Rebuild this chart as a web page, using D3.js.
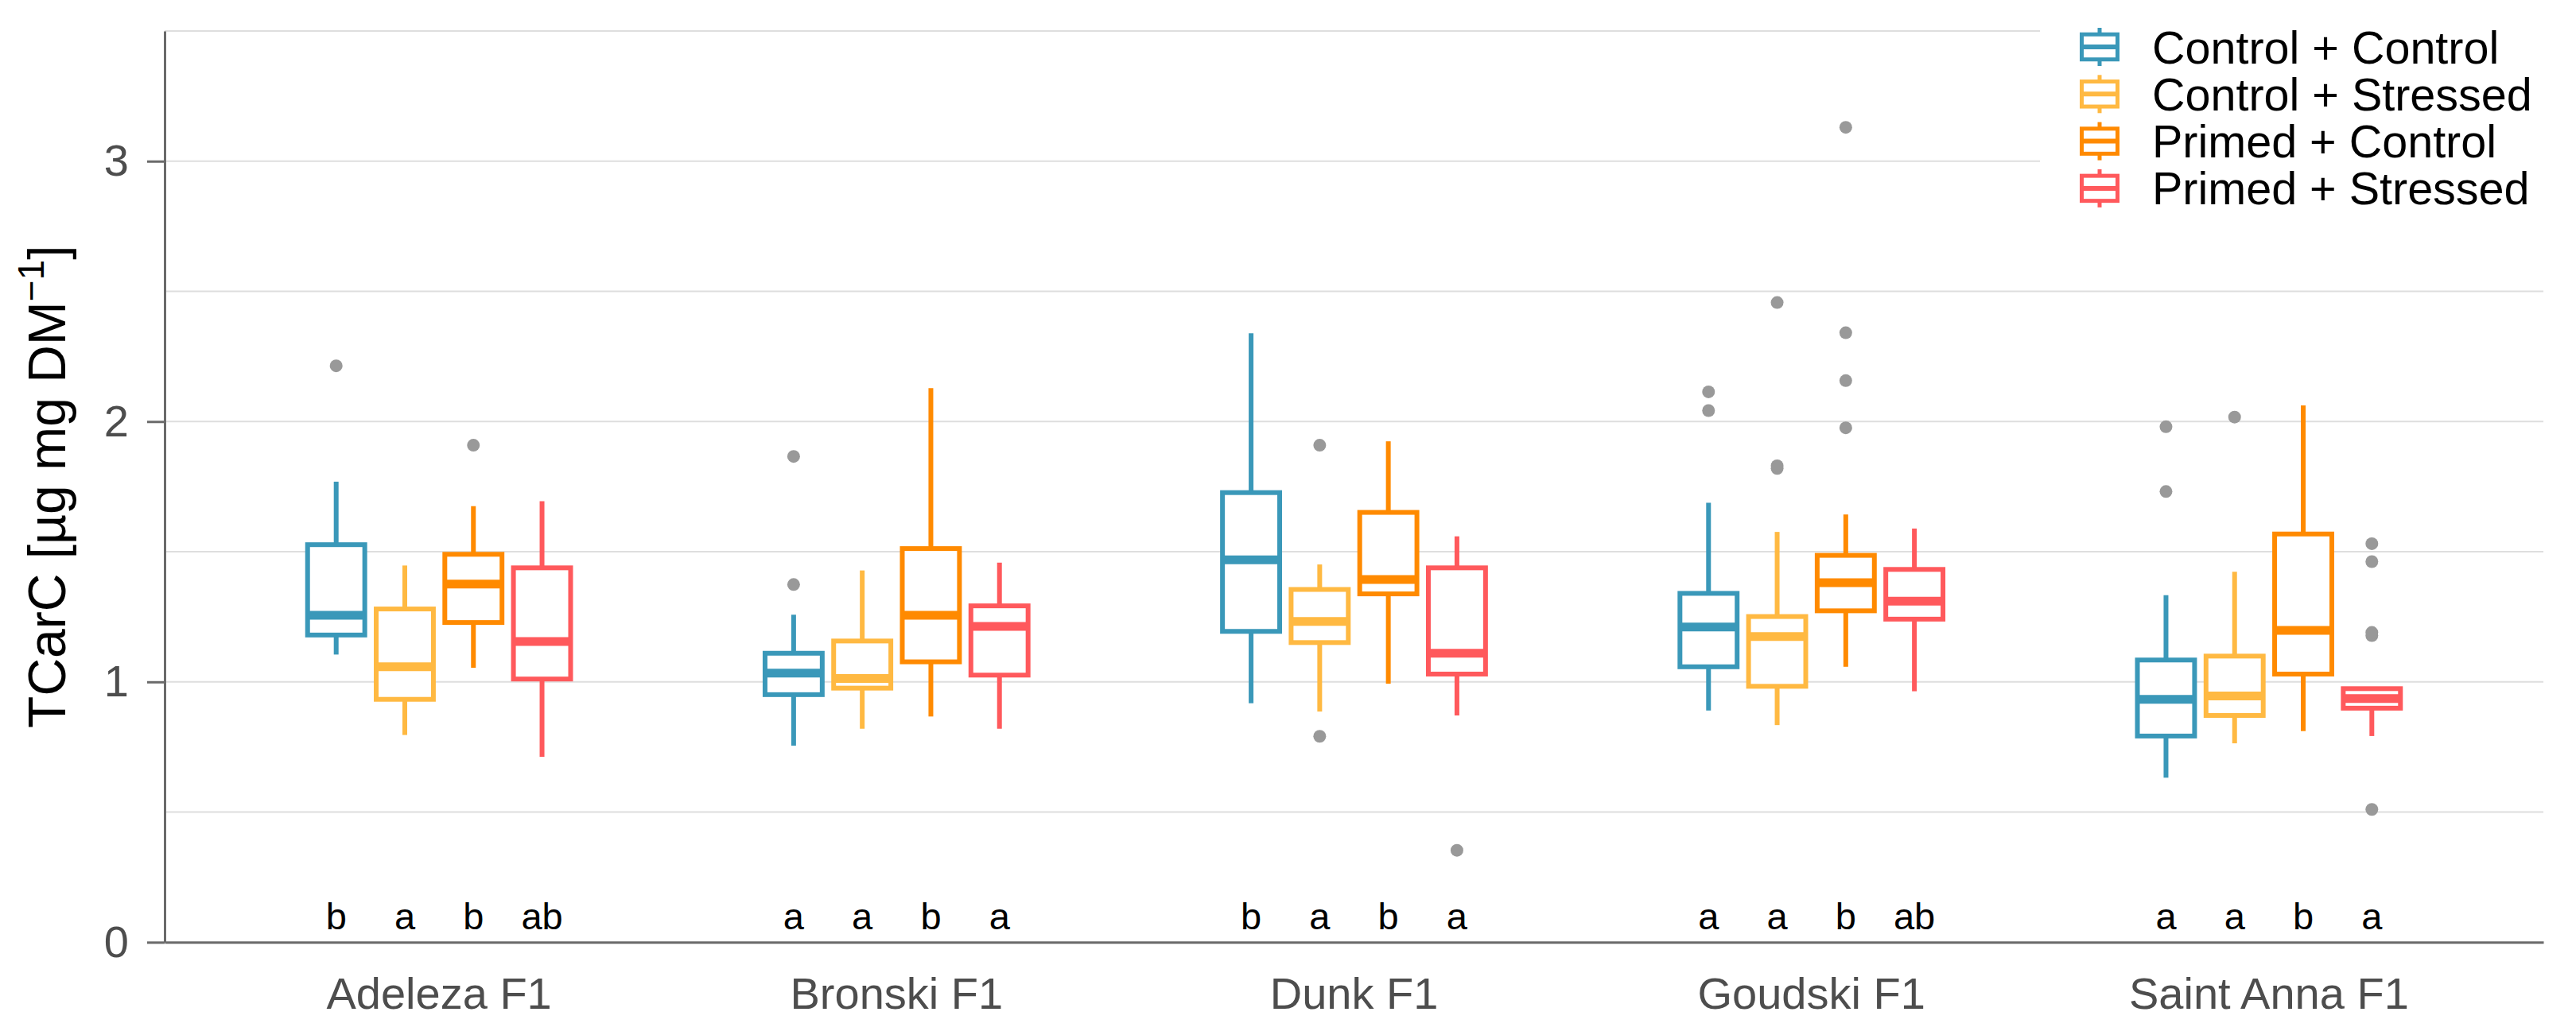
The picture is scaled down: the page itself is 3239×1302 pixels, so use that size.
<!DOCTYPE html>
<html>
<head>
<meta charset="utf-8">
<script src="https://cdn.jsdelivr.net/npm/d3@7"></script>
<style>
  html, body { margin: 0; padding: 0; background: #ffffff; }
  svg { display: block; font-family: "Liberation Sans", Arial, Helvetica, sans-serif; }
</style>
</head>
<body>
<svg id="chart" width="3239" height="1302"></svg>
<script>
// ---------------- data ----------------
const cultivars = ["Adeleza F1", "Bronski F1", "Dunk F1", "Goudski F1", "Saint Anna F1"];
const treatments = ["Control + Control", "Control + Stressed", "Primed + Control", "Primed + Stressed"];
const colors = ["#3a98b9", "#ffb942", "#ff8a00", "#ff595c"];

// per cultivar: [CC, CS, PC, PS]
const whiskerLow  = [[1.105, 0.796, 1.054, 0.712],
                     [0.755, 0.820, 0.867, 0.820],
                     [0.918, 0.886, 0.993, 0.871],
                     [0.890, 0.834, 1.058, 0.964],
                     [0.632, 0.764, 0.811, 0.792]];
const q1          = [[1.180, 0.933, 1.228, 1.011],
                     [0.951, 0.976, 1.077, 1.026],
                     [1.194, 1.151, 1.338, 1.030],
                     [1.058, 0.983, 1.273, 1.241],
                     [0.792, 0.871, 1.030, 0.899]];
const medianVals  = [[1.256, 1.058, 1.376, 1.155],
                     [1.034, 1.013, 1.256, 1.213],
                     [1.469, 1.232, 1.393, 1.110],
                     [1.211, 1.174, 1.381, 1.310],
                     [0.933, 0.946, 1.198, 0.936]];
const q3          = [[1.527, 1.280, 1.490, 1.438],
                     [1.110, 1.157, 1.512, 1.292],
                     [1.727, 1.355, 1.651, 1.438],
                     [1.340, 1.251, 1.486, 1.432],
                     [1.084, 1.099, 1.568, 0.974]];
const whiskerHigh = [[1.769, 1.447, 1.675, 1.694],
                     [1.258, 1.428, 2.128, 1.458],
                     [2.339, 1.451, 1.924, 1.559],
                     [1.688, 1.576, 1.643, 1.589],
                     [1.333, 1.423, 2.062, 0.974]];
const outliers    = [[[2.214], [], [1.909], []],
                     [[1.866, 1.374], [], [], []],
                     [[], [1.909, 0.791], [], [0.353]],
                     [[2.114, 2.042], [2.457, 1.820, 1.830], [3.130, 2.341, 2.157, 1.976], []],
                     [[1.980, 1.731], [2.017], [], [1.531, 1.462, 1.178, 1.190, 0.510]]];
const sigLetters  = [["b", "a", "b", "ab"],
                     ["a", "a", "b", "a"],
                     ["b", "a", "b", "a"],
                     ["a", "a", "b", "ab"],
                     ["a", "a", "b", "a"]];
const yTicks = [0, 1, 2, 3];
const yGrid = [0.5, 1, 1.5, 2, 2.5, 3, 3.5];
const letterY = 0.1;

// ---------------- layout ----------------
const svg = d3.select("#chart");
const panel = { left: 207, right: 3198, top: 39, bottom: 1185.3 };

const x = d3.scaleBand(cultivars, [panel.left, panel.right]).paddingInner(0).paddingOuter(0.1);
const unit = x.step();
const xs = d3.scalePoint(treatments, [-0.225 * unit, 0.225 * unit]);
const boxW = 0.125 * unit;
const y = d3.scaleLinear([0, 3.5], [panel.bottom, panel.top]);

// grid
svg.append("g").selectAll("line").data(yGrid).join("line")
  .attr("x1", panel.left).attr("x2", panel.right)
  .attr("y1", d => y(d)).attr("y2", d => y(d))
  .attr("stroke", "#dedede").attr("stroke-width", 2);

// boxes
const items = [];
cultivars.forEach((c, i) => treatments.forEach((t, j) => items.push({ i, j, c, t })));
const cx = d => x(d.c) + x.bandwidth() / 2 + xs(d.t);

const gBox = svg.append("g");
// outliers
items.forEach(d => {
  gBox.selectAll(null).data(outliers[d.i][d.j]).join("circle")
    .attr("cx", cx(d)).attr("cy", v => y(v)).attr("r", 8)
    .attr("fill", "#999999");
});
// whiskers
gBox.selectAll("line.wh").data(items).join("line").attr("class", "wh")
  .attr("x1", cx).attr("x2", cx)
  .attr("y1", d => y(whiskerHigh[d.i][d.j])).attr("y2", d => y(q3[d.i][d.j]))
  .attr("stroke", d => colors[d.j]).attr("stroke-width", 6);
gBox.selectAll("line.wl").data(items).join("line").attr("class", "wl")
  .attr("x1", cx).attr("x2", cx)
  .attr("y1", d => y(q1[d.i][d.j])).attr("y2", d => y(whiskerLow[d.i][d.j]))
  .attr("stroke", d => colors[d.j]).attr("stroke-width", 6);
// box rect
gBox.selectAll("rect.box").data(items).join("rect").attr("class", "box")
  .attr("x", d => cx(d) - boxW / 2).attr("width", boxW)
  .attr("y", d => y(q3[d.i][d.j]))
  .attr("height", d => y(q1[d.i][d.j]) - y(q3[d.i][d.j]))
  .attr("fill", "#ffffff").attr("stroke", d => colors[d.j]).attr("stroke-width", 6);
// median
gBox.selectAll("line.med").data(items).join("line").attr("class", "med")
  .attr("x1", d => cx(d) - boxW / 2).attr("x2", d => cx(d) + boxW / 2)
  .attr("y1", d => y(medianVals[d.i][d.j])).attr("y2", d => y(medianVals[d.i][d.j]))
  .attr("stroke", d => colors[d.j]).attr("stroke-width", 11);

// letters
svg.append("g").selectAll("text").data(items).join("text")
  .attr("x", cx).attr("y", y(letterY))
  .attr("text-anchor", "middle").attr("dominant-baseline", "central")
  .attr("font-size", 47).attr("fill", "#000000")
  .text(d => sigLetters[d.i][d.j]);

// axes
const yAxis = svg.append("g").attr("transform", `translate(${panel.left},0)`)
  .call(d3.axisLeft(y).tickValues(yTicks).tickFormat(d3.format("d")).tickSize(22).tickSizeOuter(0).tickPadding(23));
yAxis.select(".domain").attr("stroke", "#6a6a6a").attr("stroke-width", 3);
yAxis.selectAll(".tick line").attr("stroke", "#6a6a6a").attr("stroke-width", 3);
yAxis.selectAll(".tick text").attr("font-size", 56).attr("fill", "#4d4d4d")
  .attr("font-family", "Liberation Sans, Arial, sans-serif");

const xAxis = svg.append("g").attr("transform", `translate(0,${panel.bottom})`)
  .call(d3.axisBottom(x).tickSize(0).tickSizeOuter(0).tickPadding(44));
xAxis.select(".domain").attr("stroke", "#6a6a6a").attr("stroke-width", 3);
xAxis.selectAll(".tick text").attr("font-size", 56).attr("fill", "#4d4d4d")
  .attr("font-family", "Liberation Sans, Arial, sans-serif");

// y title
const yTitle = svg.append("text")
  .attr("transform", `translate(82,${(panel.top + panel.bottom) / 2}) rotate(-90)`)
  .attr("text-anchor", "middle").attr("font-size", 66).attr("fill", "#000000");
yTitle.append("tspan").text("TCarC [µg mg DM");
yTitle.append("tspan").attr("font-size", 46).attr("dy", -27).text("−1");
yTitle.append("tspan").attr("dy", 27).text("]");

// legend
const legend = svg.append("g");
legend.append("rect").attr("x", 2565).attr("y", 8).attr("width", 3239 - 2565).attr("height", 282)
  .attr("fill", "#ffffff");
const rowY0 = 59, rowStep = 59.3, keyCx = 2640, keyW = 45, keyH = 31.5;
const lg = legend.selectAll("g.item").data(treatments).join("g").attr("class", "item")
  .attr("transform", (d, k) => `translate(0,${rowY0 + k * rowStep})`);
lg.append("line").attr("x1", keyCx).attr("x2", keyCx).attr("y1", -24).attr("y2", 24)
  .attr("stroke", (d, k) => colors[k]).attr("stroke-width", 5);
lg.append("rect").attr("x", keyCx - keyW / 2).attr("y", -keyH / 2).attr("width", keyW).attr("height", keyH)
  .attr("fill", "#ffffff").attr("stroke", (d, k) => colors[k]).attr("stroke-width", 5);
lg.append("line").attr("x1", keyCx - keyW / 2).attr("x2", keyCx + keyW / 2).attr("y1", 0).attr("y2", 0)
  .attr("stroke", (d, k) => colors[k]).attr("stroke-width", 6);
lg.append("text").attr("x", 2706).attr("y", 0.358 * 57.5)
  .attr("font-size", 57.5).attr("fill", "#000000").text(d => d);
</script>
</body>
</html>
